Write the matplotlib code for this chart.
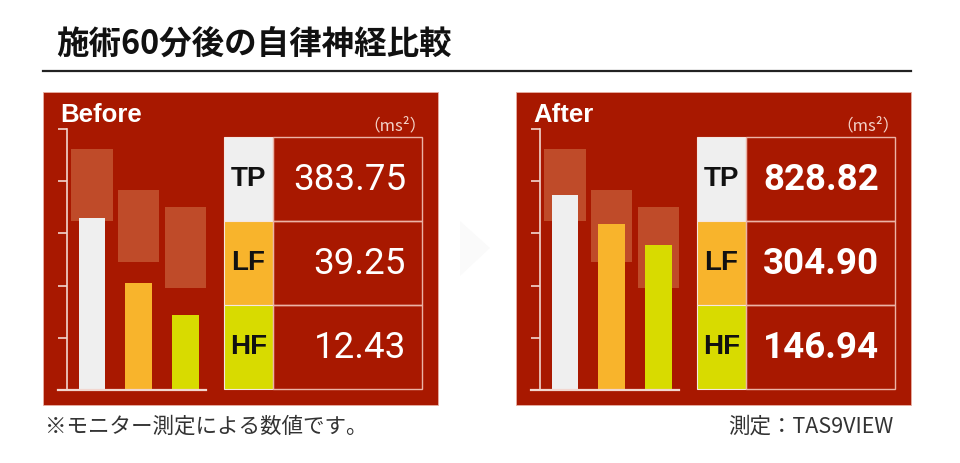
import numpy as np
import matplotlib
matplotlib.use("Agg")
import matplotlib.pyplot as plt
from matplotlib.patches import Rectangle, Polygon
from matplotlib.lines import Line2D

# ---------------- data ----------------
title = "施術60分後の自律神経比較"
panels = ["Before", "After"]
categories = ["TP", "LF", "HF"]
before_values = [383.75, 39.25, 12.43]
after_values = [828.82, 304.90, 146.94]
before_labels = ["383.75", "39.25", "12.43"]
after_labels = ["828.82", "304.90", "146.94"]
range_low = [342, 84, 34]        # shaded reference ranges (ms²)
range_high = [4100, 1000, 555]
unit = "（ms²）"
footnote = "※モニター測定による数値です。"
source = "測定：TAS9VIEW"

# ---------------- style ----------------
W, H = 960, 463
RED = "#A81800"
SHADE = "#BF4B29"
BAR_COLORS = ["#EFEFEF", "#F8B42C", "#D8DB00"]
LINE = "#EBB3A6"
AXCOL = "#F2D6CF"
CJK = ["Noto Sans CJK JP", "DejaVu Sans"]

fig = plt.figure(figsize=(W / 100, H / 100), dpi=100)

def fx(x):
    return x / W

def fy(y):
    return 1 - y / H

def frect(x0, y0, x1, y1, **kw):
    r = Rectangle((fx(x0), fy(y1)), fx(x1) - fx(x0), fy(y0) - fy(y1),
                  transform=fig.transFigure, **kw)
    fig.patches.append(r)
    return r

# title and underline
fig.text(fx(56), fy(45), title, family=CJK, fontsize=23.4, fontweight="bold",
         color="#111111", ha="left", va="center")
fig.lines.append(Line2D([fx(43), fx(911)], [fy(71), fy(71)], transform=fig.transFigure,
                        color="#222222", lw=1.6))

# faint arrow between panels
fig.patches.append(Polygon([[fx(460), fy(221)], [fx(460), fy(276)], [fx(490), fy(248)]],
                           closed=True, transform=fig.transFigure,
                           facecolor="#FAFAFA", edgecolor="none", zorder=-1))

TOP = 3.913  # log10 of axis top
panel_boxes = [(43, 92, 438, 405), (516, 92, 911, 405)]
values_all = [before_values, after_values]
labels_all = [before_labels, after_labels]
weights = ["normal", "bold"]

for p, name in enumerate(panels):
    x0, y0, x1, y1 = panel_boxes[p]
    frect(x0, y0, x1, y1, facecolor=RED, edgecolor="#E8B0A4", lw=0.6, zorder=-1)
    fig.text(fx(x0 + 17), fy(115), name, fontsize=18.5, fontweight="bold",
             family="Liberation Sans", color="white", ha="left", va="center")

    # bar chart axes
    axl = x0 + 24
    ax = fig.add_axes([fx(axl), fy(390), fx(139), fy(129) - fy(390)])
    ax.set_zorder(5)
    ax.set_facecolor("none")
    xs = np.arange(len(categories))
    ax.bar(xs, np.array(range_high) - np.array(range_low), bottom=range_low,
           width=0.88, color=SHADE, zorder=1)
    ax.bar(xs, values_all[p], bottom=1, width=0.567, color=BAR_COLORS, zorder=2)
    ax.set_yscale("log")
    ax.set_ylim(1, 10 ** TOP)
    ax.set_xlim(-0.535, 2.44)
    ax.set_yticks(10 ** (np.arange(6) * TOP / 5))
    ax.minorticks_off()
    ax.set_yticklabels([])
    ax.set_xticks([])
    for s in ["top", "right", "bottom"]:
        ax.spines[s].set_visible(False)
    ax.spines["left"].set_color(AXCOL)
    ax.spines["left"].set_linewidth(1.2)
    ax.tick_params(axis="y", direction="out", length=6.5, width=1.2, color=AXCOL)
    ax.plot([-9 / 139, 1], [0, 0], transform=ax.transAxes, color=AXCOL, lw=1.6,
            clip_on=False, zorder=3)

    # table
    tx0, tx_mid, tx1 = (224, 273, 422) if p == 0 else (697, 746, 895)
    ty0, ty1 = 136.7, 389.3
    rh = (ty1 - ty0) / len(categories)
    fig.text(fx(tx1 + 5), fy(126), unit, family=CJK, fontsize=12, color="#F3D2C8",
             ha="right", va="center")
    for i, cat in enumerate(categories):
        ra = ty0 + i * rh
        rb = ra + rh
        frect(tx0, ra, tx_mid, rb, facecolor=BAR_COLORS[i], edgecolor="#F6E6E0", lw=0.8, zorder=2)
        frect(tx_mid, ra, tx1, rb, facecolor="none", edgecolor=LINE, lw=1.0, zorder=2)
        fig.text(fx((tx0 + tx_mid) / 2), fy((ra + rb) / 2), cat, family="Liberation Sans",
                 fontsize=20, fontweight="bold", color="#111111", ha="center", va="center")
        fig.text(fx(tx1 - 16), fy((ra + rb) / 2 + 1), labels_all[p][i], family="Roboto",
                 fontsize=26.5, fontweight=weights[p], color="white", ha="right", va="center")

# footnotes
fig.text(fx(45), fy(427), footnote, family=CJK, fontsize=15.5, color="#333333",
         ha="left", va="center")
fig.text(fx(893), fy(427), source, family=CJK, fontsize=15.5, color="#333333",
         ha="right", va="center")

fig.savefig("out.png", dpi=100, facecolor="white")
